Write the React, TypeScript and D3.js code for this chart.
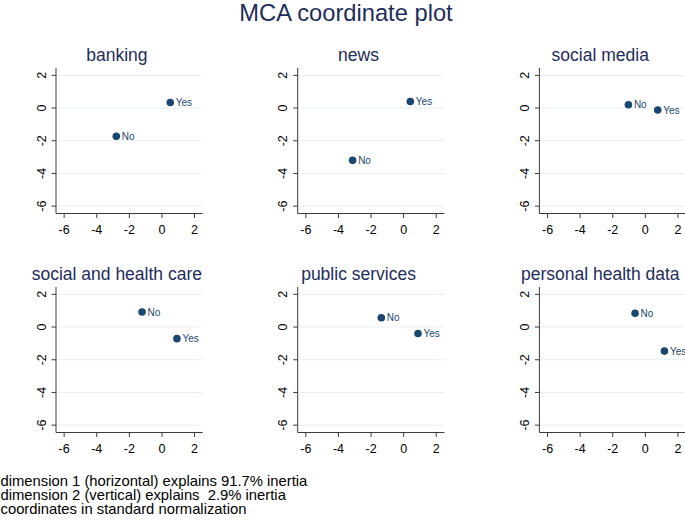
import React from "react";
import * as d3 from "d3";

const panelTitles = ["banking", "news", "social media", "social and health care", "public services", "personal health data"];
const categories = ["No", "Yes"];
const dim1No = [-2.8, -3.13, -1.04, -1.22, -1.37, -0.63];
const dim2No = [-1.73, -3.2, 0.2, 0.92, 0.57, 0.84];
const dim1Yes = [0.51, 0.41, 0.76, 0.92, 0.88, 1.17];
const dim2Yes = [0.34, 0.4, -0.12, -0.71, -0.39, -1.47];
const tickValues = [-6, -4, -2, 0, 2];
const footnotes = [
  "dimension 1 (horizontal) explains 91.7% inertia",
  "dimension 2 (vertical) explains  2.9% inertia",
  "coordinates in standard normalization",
];
const mainTitle = "MCA coordinate plot";

const W = 685;
const H = 521;
const FONT = "'Liberation Sans', Arial, Helvetica, sans-serif";
const NAVY = "#1e2d5a";
const MARK = "#1a476f";
const GRID = "#e6eff2";
const AXIS = "#3c3c3c";

const plotW = 146.7;
const plotH = 145.5;
const colStep = 241.7;
const rowStep = 219;
const left0 = 56;
const top0 = 68;

function Panel({ idx }: { idx: number }) {
  const col = idx % 3;
  const row = Math.floor(idx / 3);
  const x0 = left0 + col * colStep;
  const y0 = top0 + row * rowStep;
  const x = d3.scaleLinear().domain([-6.5, 2.5]).range([x0, x0 + plotW]);
  const y = d3.scaleLinear().domain([-6.45, 2.45]).range([y0 + plotH, y0]);
  const pts = categories.map((c, k) => ({
    label: c,
    px: k === 0 ? dim1No[idx] : dim1Yes[idx],
    py: k === 0 ? dim2No[idx] : dim2Yes[idx],
  }));
  const bottom = y0 + plotH;
  return (
    <g>
      <text x={x0 + plotW / 2 - 12.5} y={y0 - 7} textAnchor="middle" fontSize={17.5} fill={NAVY} fontFamily={FONT}>
        {panelTitles[idx]}
      </text>
      {tickValues.map((t) => (
        <line key={"g" + t} x1={x0} x2={x0 + plotW} y1={y(t)} y2={y(t)} stroke={GRID} strokeWidth={1} />
      ))}
      <line x1={x0} x2={x0} y1={y0} y2={bottom} stroke={AXIS} strokeWidth={1} />
      <line x1={x0} x2={x0 + plotW} y1={bottom} y2={bottom} stroke={AXIS} strokeWidth={1} />
      {tickValues.map((t) => (
        <g key={"y" + t}>
          <line x1={x0 - 4.5} x2={x0} y1={y(t)} y2={y(t)} stroke={AXIS} strokeWidth={1} />
          <text
            transform={`translate(${x0 - 10.5},${y(t)}) rotate(-90)`}
            textAnchor="middle"
            fontSize={12.5}
            fill="#000"
            fontFamily={FONT}
          >
            {t}
          </text>
        </g>
      ))}
      {tickValues.map((t) => (
        <g key={"x" + t}>
          <line x1={x(t)} x2={x(t)} y1={bottom} y2={bottom + 4.5} stroke={AXIS} strokeWidth={1} />
          <text x={x(t)} y={bottom + 20.5} textAnchor="middle" fontSize={12.5} fill="#000" fontFamily={FONT}>
            {t}
          </text>
        </g>
      ))}
      {pts.map((p) => (
        <g key={p.label}>
          <circle cx={x(p.px)} cy={y(p.py)} r={3.8} fill={MARK} />
          <text x={x(p.px) + 5.5} y={y(p.py) + 3.6} fontSize={10} fill={MARK} fontFamily={FONT}>
            {p.label}
          </text>
        </g>
      ))}
    </g>
  );
}

export default function App() {
  return (
    <svg width={W} height={H} style={{ position: "absolute", left: 0, top: 0, background: "#fff" }}>
      <rect x={0} y={0} width={W} height={H} fill="#fff" />
      <text x={346} y={21} textAnchor="middle" fontSize={23.7} fill={NAVY} fontFamily={FONT}>
        {mainTitle}
      </text>
      {panelTitles.map((_, i) => (
        <Panel key={i} idx={i} />
      ))}
      {footnotes.map((f, i) => (
        <text
          key={i}
          x={0.5}
          y={486 + i * 13.8}
          fontSize={14.8}
          fill="#000"
          fontFamily={FONT}
          style={{ whiteSpace: "pre" }}
        >
          {f}
        </text>
      ))}
    </svg>
  );
}
